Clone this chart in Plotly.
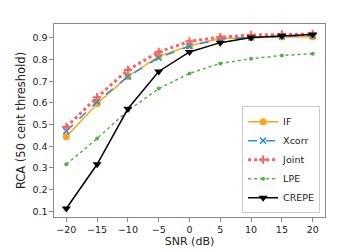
import plotly.graph_objects as go

snr = [-20, -15, -10, -5, 0, 5, 10, 15, 20]
rca_if = [0.444, 0.596, 0.722, 0.815, 0.864, 0.897, 0.902, 0.905, 0.905]
rca_xcorr = [0.470, 0.606, 0.722, 0.808, 0.862, 0.895, 0.902, 0.906, 0.910]
rca_joint = [0.489, 0.626, 0.752, 0.835, 0.884, 0.903, 0.913, 0.916, 0.918]
rca_lpe = [0.317, 0.436, 0.565, 0.666, 0.736, 0.782, 0.804, 0.819, 0.827]
rca_crepe = [0.113, 0.317, 0.573, 0.745, 0.835, 0.878, 0.902, 0.910, 0.916]

x_ticks = [-20, -15, -10, -5, 0, 5, 10, 15, 20]
y_ticks = [0.1, 0.2, 0.3, 0.4, 0.5, 0.6, 0.7, 0.8, 0.9]

fig = go.Figure()
fig.add_trace(go.Scatter(x=snr, y=rca_if, name="IF", mode="lines+markers",
                         line=dict(color="#ffa31a", width=1.5),
                         marker=dict(symbol="circle", size=7, color="#ffa31a")))
fig.add_trace(go.Scatter(x=snr, y=rca_xcorr, name="Xcorr", mode="lines+markers",
                         line=dict(color="#2b8fd6", width=1.5, dash="dash"),
                         marker=dict(symbol="x-thin-open", size=6,
                                     line=dict(color="#2b8fd6", width=1.5))))
fig.add_trace(go.Scatter(x=snr, y=rca_joint, name="Joint", mode="lines+markers",
                         line=dict(color="#ff6060", width=3, dash="dot"),
                         marker=dict(symbol="cross-thin-open", size=6,
                                     line=dict(color="#ff6060", width=2))))
fig.add_trace(go.Scatter(x=snr, y=rca_lpe, name="LPE", mode="lines+markers",
                         line=dict(color="#55b046", width=1.5, dash="dot"),
                         marker=dict(symbol="circle", size=4, color="#55b046")))
fig.add_trace(go.Scatter(x=snr, y=rca_crepe, name="CREPE", mode="lines+markers",
                         line=dict(color="black", width=1.5),
                         marker=dict(symbol="triangle-down", size=8, color="black")))

axis_common = dict(showline=True, mirror=True, linecolor="#888888", linewidth=1.2,
                   ticks="outside", ticklen=3.5, tickcolor="#888888",
                   showgrid=False, zeroline=False,
                   tickfont=dict(size=9.5, color="#222222"))

fig.update_layout(
    width=352, height=250,
    margin=dict(l=44, r=35, t=16, b=30),
    paper_bgcolor="white", plot_bgcolor="white",
    font=dict(family="DejaVu Sans", size=10, color="#222222"),
    xaxis=dict(range=[-22, 22], tickvals=x_ticks,
               title=dict(text="SNR (dB)", standoff=3, font=dict(size=11)),
               **axis_common),
    yaxis=dict(range=[0.074, 0.964], tickvals=y_ticks,
               tickformat=".1f",
               title=dict(text="RCA (50 cent threshold)", standoff=4, font=dict(size=11.5)),
               **axis_common),
    legend=dict(x=0.982, y=0.02, xanchor="right", yanchor="bottom",
                bordercolor="#cccccc", borderwidth=1, bgcolor="white",
                font=dict(size=9.5), tracegroupgap=0, itemwidth=30),
    showlegend=True,
)

fig.write_html("out.html")
